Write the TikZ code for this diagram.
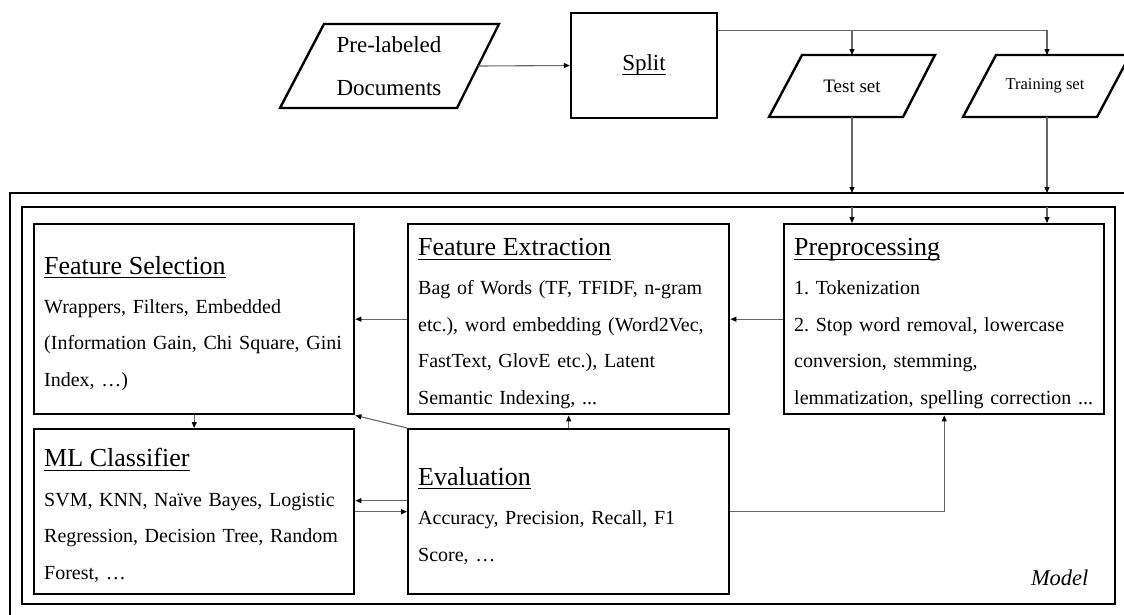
\documentclass[tikz,border=0pt]{standalone}
\usepackage{amsmath}
\usepackage{fontspec}
\setmainfont{Liberation Serif}
\usetikzlibrary{arrows.meta,calc}
\frenchspacing

\newcommand{\boxhead}[1]{{\fontsize{26}{36.5}\selectfont\rule{0pt}{26pt}\underline{\smash[b]{#1}}}}

\begin{document}
\begin{tikzpicture}[x=1pt,y=-1pt,>={Triangle[length=6pt,width=5pt,color=black]},
	box/.style={draw,line width=2.4pt,anchor=north west,inner xsep=10pt,inner ysep=0pt,
		align=left,font=\fontsize{20}{36.5}\selectfont},
	io/.style={line width=2.4pt,line join=miter},
	conn/.style={->,line width=1.1pt,draw=black!60},
	frame/.style={line width=2.2pt}]
	
	\useasboundingbox (0,0) rectangle (1124,614);
	\clip (0,0) rectangle (1124,614);
	
	% ---- 输入文档 ----
	\draw[io] (324,24) -- (499,24) -- (457,108) -- (280,108) -- cycle;
	\node[align=center,font=\fontsize{23}{43}\selectfont] (Doc) at (389,66.6) {Pre-labeled\\Documents};
	\coordinate (DocE) at (478,66);
	
	% ---- 划分 ----
	\node[draw,line width=2.4pt,minimum width=146pt,minimum height=105pt,
		font=\fontsize{23}{28}\selectfont] (Split) at (644,65.5) {\underline{\smash[b]{Split}}};
	\coordinate (SplitO) at ($(Split.north east)+(0,19)$);
	
	% ---- 测试集 / 训练集 ----
	\draw[io] (802,55) -- (935,55) -- (903,117) -- (769,117) -- cycle;
	\node[font=\fontsize{19}{23}\selectfont] (Test) at (852,86) {Test set};
	\draw[io] (996,55) -- (1130,55) -- (1097,117) -- (963,117) -- cycle;
	\node[font=\fontsize{16.5}{20}\selectfont] (Train) at (1045,86) {Training set};
	\coordinate (TestN) at (852,55);
	\coordinate (TestS) at (852,117);
	\coordinate (TrainN) at (1047,55);
	\coordinate (TrainS) at (1047,117);
	
	% ---- 模型外框 ----
	\draw[frame] (10,193) rectangle (1150,640);
	\draw[frame] (22,207) rectangle (1115,604);
	\coordinate (OutT1) at (852,193);
	\coordinate (OutT2) at (1047,193);
	\coordinate (InT1) at (852,207);
	\coordinate (InT2) at (1047,207);
	\node[anchor=base east,font=\fontsize{22.5}{26}\selectfont\itshape] (Model) at (1092,585) {Model};
	
	% ---- 各处理步骤 ----
	\node[box,text width=300pt,minimum width=320pt,minimum height=190pt] (FS) at (33,223) {%
		\boxhead{Feature Selection}\\[2.5pt]
		Wrappers, Filters, Embedded\\
		(Information Gain, Chi Square, Gini\\
		Index, \ldots)};
	\node[box,text width=301pt,minimum width=321pt,minimum height=190pt] (FE) at (407,223) {%
		\boxhead{Feature Extraction}\\[2.5pt]
		Bag of Words (TF, TFIDF, n-gram\\
		etc.), word embedding (Word2Vec,\\
		FastText, GlovE etc.), Latent\\
		Semantic Indexing, ...};
	\node[box,text width=300pt,minimum width=320pt,minimum height=190pt] (Pre) at (783,223) {%
		\boxhead{Preprocessing}\\[2.5pt]
		1. Tokenization\\
		2. Stop word removal, lowercase\\
		conversion, stemming,\\
		lemmatization, spelling correction ...};
	\node[box,text width=300pt,minimum width=320pt,minimum height=165pt] (ML) at (33,428) {%
		\boxhead{ML Classifier}\\[3pt]
		SVM, KNN, Naïve Bayes, Logistic\\
		Regression, Decision Tree, Random\\
		Forest, \ldots};
	\node[box,text width=301pt,minimum width=321pt,minimum height=165pt] (Ev) at (407,428) {%
		\boxhead{Evaluation}\\[3pt]
		Accuracy, Precision, Recall, F1\\
		Score, \ldots};
	
	% ---- 连线 ----
	\draw[conn] (DocE) -- (Split.west);
	\draw[conn] (SplitO) -| (TrainN);
	\draw[conn] (SplitO) -| (TestN);
	\draw[conn] (TestS) -- (OutT1);
	\draw[conn] (TrainS) -- (OutT2);
	\draw[conn] (InT1) -- (InT1 |- Pre.north);
	\draw[conn] (InT2) -- (InT2 |- Pre.north);
	\draw[conn] (Pre.west) -- (FE.east);
	\draw[conn] (FE.west) -- (FS.east);
	\draw[conn] (FS.south) -- (ML.north);
	\draw[conn] (Ev.north west) -- (FS.south east);
	\draw[conn] (Ev.north) -- (FE.south);
	\draw[conn] ([yshift=11pt]Ev.west) -- ([yshift=11pt]ML.east);
	\draw[conn] (ML.east) -- (Ev.west);
	\draw[conn] (Ev.east) -| (Pre.south);
	
\end{tikzpicture}
\end{document}
